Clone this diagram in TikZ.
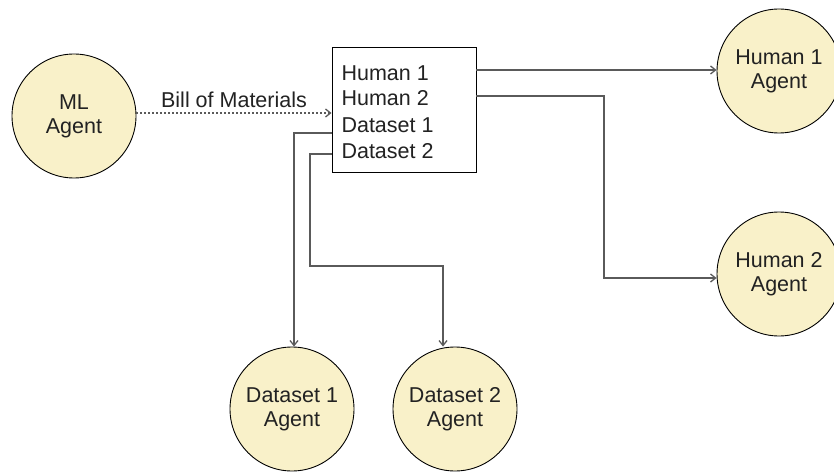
\documentclass[tikz,border=0pt]{standalone}
\usepackage{fontspec}
\setmainfont{Liberation Sans}
\usetikzlibrary{arrows.meta}
\definecolor{agentfill}{HTML}{F9F1C9}
\definecolor{linegray}{HTML}{5A5A5A}
\definecolor{txt}{HTML}{222222}
\begin{document}
\begin{tikzpicture}[x=1pt,y=-1pt,
  agent/.style={circle,draw=black,line width=0.9pt,fill=agentfill,minimum size=124pt,inner sep=0pt,align=center,font=\fontsize{21.5}{24}\selectfont,text=txt},
  conn/.style={draw=linegray,line width=1.3pt,-{Straight Barb[length=5pt,width=8pt]}},
  lbl/.style={font=\fontsize{21.5}{24}\selectfont,text=txt}]
\useasboundingbox (0,0) rectangle (834,473);
\node[agent] (ml) at (74,116) {ML\\Agent};
\node[agent] (h1) at (779,71) {Human 1\\Agent};
\node[agent] (h2) at (779,274) {Human 2\\Agent};
\node[agent] (d1) at (292,409) {Dataset 1\\Agent};
\node[agent] (d2) at (455,409) {Dataset 2\\Agent};
\node[draw=black,line width=0.9pt,fill=white,minimum width=144pt,minimum height=125pt,inner sep=0pt] (box) at (404,109.5) {};
\node[lbl,anchor=west] (t1) at (338,73) {Human 1};
\node[lbl,anchor=west] (t2) at (338,98) {Human 2};
\node[lbl,anchor=west] (t3) at (338,125) {Dataset 1};
\node[lbl,anchor=west] (t4) at (338,151) {Dataset 2};
\draw[conn,dash pattern=on 2pt off 2pt] (ml.east |- 0,113) -- node[lbl,above=1pt] {Bill of Materials} (box.west |- 0,113);
\draw[conn] (box.east |- 0,70) -- (h1.west |- 0,70);
\draw[conn] (box.east |- 0,96) -- (604,96) -- (604,278) -- (h2.west |- 0,278);
\draw[conn] (box.west |- 0,133) -- (294,133) -- (d1.north -| 294,0);
\draw[conn] (box.west |- 0,154) -- (310,154) -- (310,266) -- (443,266) -- (d2.north -| 443,0);
\end{tikzpicture}
\end{document}
